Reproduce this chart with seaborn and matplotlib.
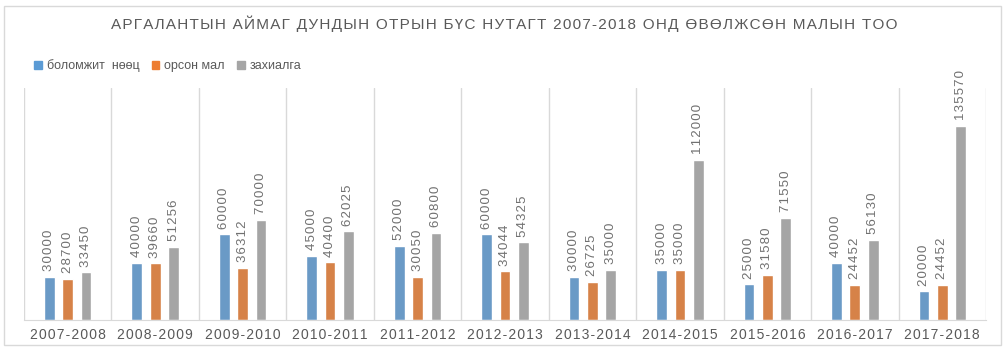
import matplotlib
matplotlib.use("Agg")
import matplotlib.pyplot as plt
import seaborn as sns
import pandas as pd
from matplotlib.patches import Rectangle

# data
periods = ["2007-2008", "2008-2009", "2009-2010", "2010-2011", "2011-2012", "2012-2013",
           "2013-2014", "2014-2015", "2015-2016", "2016-2017", "2017-2018"]
reserve = [30000, 40000, 60000, 45000, 52000, 60000, 30000, 35000, 25000, 40000, 20000]
entered = [28700, 39660, 36312, 40400, 30050, 34044, 26725, 35000, 31580, 24452, 24452]
ordered = [33450, 51256, 70000, 62025, 60800, 54325, 35000, 112000, 71550, 56130, 135570]
series = ["боломжит  нөөц", "орсон мал", "захиалга"]
colors = ["#5B9BD5", "#ED7D31", "#A5A5A5"]
title = "АРГАЛАНТЫН АЙМАГ ДУНДЫН ОТРЫН БҮС НУТАГТ 2007-2018 ОНД ӨВӨЛЖСӨН МАЛЫН ТОО"

df = pd.DataFrame({
    "period": periods * 3,
    "value": reserve + entered + ordered,
    "series": [series[0]] * 11 + [series[1]] * 11 + [series[2]] * 11,
})

sns.set_style("white")
plt.rcParams["font.family"] = ["Liberation Sans", "DejaVu Sans"]

fig = plt.figure(figsize=(10.08, 3.51), dpi=100)
ax = fig.add_axes([24 / 1008, 1 - 320 / 351, 962 / 1008, 232 / 351])

sns.barplot(data=df, x="period", y="value", hue="series", palette=colors,
            width=0.63, gap=0.42, ax=ax, legend=False)

for cont in ax.containers:
    ax.bar_label(cont, labels=["\u200a".join(f"{v:.0f}") for v in cont.datavalues],
                 rotation=90, padding=4, fontsize=9.5, color="#707070")

ax.set_xlim(-0.5, 10.5)
ax.set_ylim(0, 162000)
ax.set_yticks([])
ax.set_xlabel("")
ax.set_ylabel("")
ax.set_xticks(range(11))
ax.set_xticklabels(["\u200a".join(p) for p in periods], fontsize=10, color="#595959")
ax.tick_params(axis="x", length=0, pad=6)
ax.set_xticks([i - 0.5 for i in range(12)], minor=True)
ax.tick_params(axis="x", which="minor", length=0)
ax.grid(axis="x", which="minor", color="#D9D9D9", linewidth=1)
for s in ["top", "right", "left"]:
    ax.spines[s].set_visible(False)
ax.spines["bottom"].set_color("#D9D9D9")

# legend
handles = [Rectangle((0, 0), 1, 1, color=c) for c in colors]
fig.legend(handles, series, loc="center left", bbox_to_anchor=(23 / 1008, 1 - 66 / 351),
           ncol=3, frameon=False, fontsize=9, handlelength=0.6, handleheight=0.6,
           handletextpad=0.4, columnspacing=1.0, labelcolor="#595959")

fig.text(0.5, 1 - 24 / 351, "\u200a".join(title),
         ha="center", va="center", fontsize=11, color="#595959")

fig.patches.append(Rectangle((4 / 1008, 1 - 345 / 351), 997 / 1008, 339 / 351,
                             transform=fig.transFigure, fill=False,
                             edgecolor="#D9D9D9", linewidth=1))

fig.savefig("out.png", dpi=100)
